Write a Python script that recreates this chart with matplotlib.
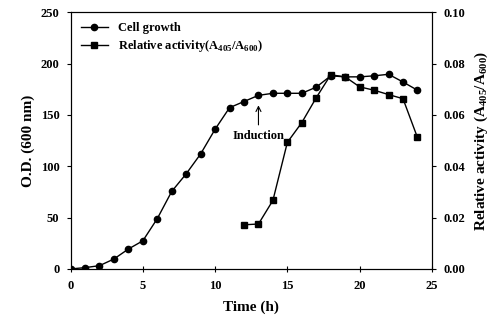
import matplotlib
matplotlib.use("Agg")
import matplotlib.pyplot as plt

plt.rcParams['font.family'] = ['Liberation Serif', 'DejaVu Serif']
plt.rcParams['font.weight'] = 'bold'
plt.rcParams['mathtext.fontset'] = 'custom'
plt.rcParams['mathtext.rm'] = 'Liberation Serif:bold'
plt.rcParams['mathtext.bf'] = 'Liberation Serif:bold'

time_growth = [0, 1, 2, 3, 4, 5, 6, 7, 8, 9, 10, 11, 12, 13, 14, 15, 16, 17, 18, 19, 20, 21, 22, 23, 24]
od600 = [0, 1.3, 3.2, 9.7, 19.4, 27.4, 49, 75.5, 92.6, 112, 136, 157, 163, 169, 171, 171, 171, 177, 188, 187, 187, 188, 189.5, 182, 174]

time_act = [12, 13, 14, 15, 16, 17, 18, 19, 20, 21, 22, 23, 24]
rel_act = [0.0172, 0.0175, 0.0267, 0.0493, 0.057, 0.0667, 0.0756, 0.0748, 0.0709, 0.0696, 0.0679, 0.0663, 0.0512]

xticks = [0, 5, 10, 15, 20, 25]
yticks_left = [0, 50, 100, 150, 200, 250]
yticks_right = [0.00, 0.02, 0.04, 0.06, 0.08, 0.10]

fig = plt.figure(figsize=(4.97, 3.28), dpi=100)
ax = fig.add_axes([0.142, 0.180, 0.727, 0.783])
ax2 = ax.twinx()

l1, = ax.plot(time_growth, od600, color='black', lw=1.0, marker='o', ms=4.5, label='Cell growth')
l2, = ax2.plot(time_act, rel_act, color='black', lw=1.0, marker='s', ms=4.5,
               label='Relative activity(A$_{405}$/A$_{600}$)')

ax.set_xlim(0, 25)
ax.set_ylim(0, 250)
ax2.set_ylim(0, 0.10)
ax.set_xticks(xticks)
ax.set_yticks(yticks_left)
ax2.set_yticks(yticks_right)
ax2.set_yticklabels([f"{v:.2f}" for v in yticks_right])

for a in (ax, ax2):
    a.tick_params(labelsize=9, width=0.8, length=3, pad=5)
ax.tick_params(axis='x', direction='inout', length=4, pad=6)

ax.set_xlabel('Time (h)', fontsize=11, fontweight='bold', labelpad=6)
ax.set_ylabel('O.D. (600 nm)', fontsize=11, fontweight='bold')
ax2.set_ylabel('Relative activity (A$_{405}$/A$_{600}$)', fontsize=11, fontweight='bold', labelpad=6)

ax.annotate('Induction', xy=(13, 162), xytext=(13, 129), ha='center', va='center',
            fontsize=9, fontweight='bold',
            arrowprops=dict(arrowstyle='->', color='black', lw=0.8))

leg = ax.legend(handles=[l1, l2], loc='upper left', frameon=False, fontsize=9,
                handlelength=2.2, borderaxespad=0.4, labelspacing=0.3)

fig.savefig('out.png', dpi=100)
